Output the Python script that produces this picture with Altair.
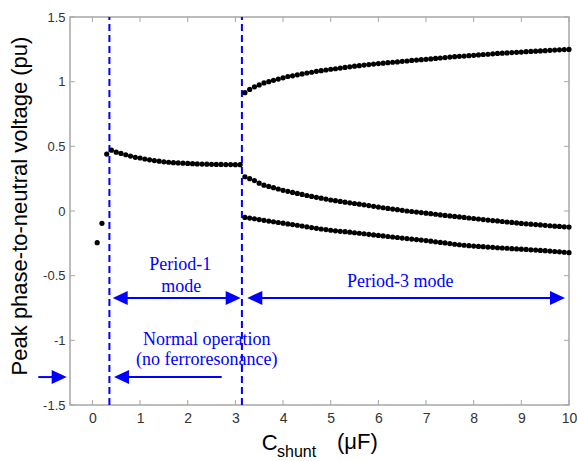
import altair as alt
import pandas as pd

# ---------------- data ----------------
x_normal = [0.1, 0.2, 0.3]
y_normal = [-0.245, -0.095, 0.44]

x_p1 = [0.4, 0.5, 0.6, 0.7, 0.8, 0.9, 1.0, 1.1, 1.2, 1.3,
        1.4, 1.5, 1.6, 1.7, 1.8, 1.9, 2.0, 2.1, 2.2, 2.3,
        2.4, 2.5, 2.6, 2.7, 2.8, 2.9, 3.0, 3.1]
y_p1 = [0.47, 0.455, 0.445, 0.435, 0.425, 0.415, 0.41, 0.402, 0.396, 0.39,
        0.385, 0.38, 0.377, 0.374, 0.372, 0.37, 0.368, 0.366, 0.364, 0.363,
        0.362, 0.361, 0.36, 0.36, 0.359, 0.359, 0.358, 0.358]

x_p3 = [3.2, 3.3, 3.4, 3.5, 3.6, 3.7, 3.8, 3.9, 4.0, 4.1,
        4.2, 4.3, 4.4, 4.5, 4.6, 4.7, 4.8, 4.9, 5.0, 5.1,
        5.2, 5.3, 5.4, 5.5, 5.6, 5.7, 5.8, 5.9, 6.0, 6.1,
        6.2, 6.3, 6.4, 6.5, 6.6, 6.7, 6.8, 6.9, 7.0, 7.1,
        7.2, 7.3, 7.4, 7.5, 7.6, 7.7, 7.8, 7.9, 8.0, 8.1,
        8.2, 8.3, 8.4, 8.5, 8.6, 8.7, 8.8, 8.9, 9.0, 9.1,
        9.2, 9.3, 9.4, 9.5, 9.6, 9.7, 9.8, 9.9, 10.0]
y_p3_upper = [0.915, 0.94, 0.96, 0.975, 0.99, 1.00, 1.01, 1.02, 1.03, 1.04,
              1.045, 1.053, 1.06, 1.067, 1.073, 1.08, 1.085, 1.09, 1.096, 1.10,
              1.105, 1.11, 1.115, 1.12, 1.124, 1.128, 1.132, 1.136, 1.14, 1.143,
              1.147, 1.15, 1.153, 1.157, 1.16, 1.164, 1.167, 1.17, 1.173, 1.176,
              1.18, 1.183, 1.186, 1.19, 1.193, 1.196, 1.198, 1.201, 1.204, 1.207,
              1.21, 1.212, 1.215, 1.218, 1.22, 1.222, 1.225, 1.227, 1.229, 1.232,
              1.234, 1.236, 1.238, 1.24, 1.242, 1.244, 1.246, 1.248, 1.249]
y_p3_middle = [0.265, 0.25, 0.235, 0.215, 0.20, 0.19, 0.18, 0.17, 0.16, 0.152,
               0.144, 0.136, 0.128, 0.12, 0.113, 0.106, 0.099, 0.092, 0.085, 0.08,
               0.074, 0.068, 0.063, 0.058, 0.053, 0.048, 0.042, 0.036, 0.03, 0.025,
               0.02, 0.015, 0.01, 0.005, 0.0, -0.004, -0.008, -0.012, -0.017, -0.021,
               -0.025, -0.03, -0.034, -0.038, -0.042, -0.046, -0.05, -0.054, -0.058, -0.062,
               -0.066, -0.07, -0.074, -0.077, -0.081, -0.085, -0.088, -0.092, -0.096, -0.099,
               -0.102, -0.105, -0.108, -0.111, -0.114, -0.117, -0.119, -0.122, -0.124]
y_p3_lower = [-0.05, -0.055, -0.06, -0.066, -0.072, -0.078, -0.083, -0.089, -0.094, -0.1,
              -0.105, -0.11, -0.116, -0.122, -0.128, -0.134, -0.139, -0.144, -0.149, -0.153,
              -0.157, -0.16, -0.164, -0.168, -0.172, -0.176, -0.18, -0.185, -0.189, -0.193,
              -0.197, -0.201, -0.205, -0.209, -0.213, -0.217, -0.221, -0.225, -0.229, -0.233,
              -0.238, -0.243, -0.247, -0.252, -0.257, -0.261, -0.265, -0.268, -0.271, -0.274,
              -0.276, -0.279, -0.281, -0.284, -0.286, -0.288, -0.291, -0.293, -0.295, -0.297,
              -0.3, -0.302, -0.305, -0.307, -0.31, -0.313, -0.316, -0.319, -0.322]

x_ticks = [0, 1, 2, 3, 4, 5, 6, 7, 8, 9, 10]
y_ticks = [-1.5, -1, -0.5, 0, 0.5, 1, 1.5]

# mode boundaries (dashed lines)
boundaries = [0.357, 3.137]

# annotation arrows: from, to, level, head at start, head at end
arrow_from = [0.426, 3.250, 2.713, -1.135]
arrow_to = [3.112, 9.916, 0.453, -0.539]
arrow_level = [-0.672, -0.672, -1.284, -1.284]
arrow_head_start = [True, True, False, False]
arrow_head_end = [True, True, True, True]

note_texts = ["Period-1", "mode", "Period-3 mode", "Normal operation", "(no ferroresonance)"]
note_x = [1.842, 1.863, 6.458, 2.398, 2.398]
note_y = [-0.456, -0.624, -0.590, -1.036, -1.191]

# ---------------- layout constants ----------------
XMIN, XMAX = -0.47, 10.0
YMIN, YMAX = -1.5, 1.5
W, H = 499, 388
PX_X = W / (XMAX - XMIN)
PX_Y = H / (YMAX - YMIN)
BLUE = "#0000ff"
FRAME = "#a6a6a6"

xscale = alt.Scale(domain=[XMIN, XMAX], nice=False, zero=False)
yscale = alt.Scale(domain=[YMIN, YMAX], nice=False, zero=False)

xaxis = alt.Axis(values=x_ticks, tickSize=0, domain=False, grid=False,
                 labelPadding=6, labelFontSize=14, labelFont="Liberation Sans",
                 labelColor="#333333", labelFlush=False, labelOverlap=False,
                 labelExpr="'' + datum.value")
yaxis = alt.Axis(values=y_ticks, tickSize=0, domain=False, grid=False,
                 labelPadding=5, labelFontSize=13, labelFont="Liberation Sans",
                 labelColor="#333333", labelFlush=False, labelOverlap=False,
                 labelExpr="'' + datum.value",
                 title="Peak phase-to-neutral voltage (pu)",
                 titleFont="Liberation Sans", titleFontSize=22,
                 titleFontWeight="normal", titleColor="black",
                 titleAngle=270, titleX=-44, titleY=188.5,
                 titleAlign="center", titleBaseline="alphabetic")

X = alt.X("x:Q", scale=xscale, axis=xaxis, title=None)
Y = alt.Y("y:Q", scale=yscale, axis=yaxis)

# ---------------- tables ----------------
pts = pd.concat([
    pd.DataFrame({"x": x_normal, "y": y_normal}),
    pd.DataFrame({"x": x_p1, "y": y_p1}),
    pd.DataFrame({"x": x_p3, "y": y_p3_upper}),
    pd.DataFrame({"x": x_p3, "y": y_p3_middle}),
    pd.DataFrame({"x": x_p3, "y": y_p3_lower}),
], ignore_index=True)

tx = 5.0 / PX_X
ty = 5.0 / PX_Y
tick_rows = []
for v in x_ticks:
    tick_rows.append({"x": v, "x2": v, "y": YMIN, "y2": YMIN + ty})
    tick_rows.append({"x": v, "x2": v, "y": YMAX, "y2": YMAX - ty})
for v in y_ticks:
    tick_rows.append({"x": XMIN, "x2": XMIN + tx, "y": v, "y2": v})
    tick_rows.append({"x": XMAX, "x2": XMAX - tx, "y": v, "y2": v})
ticks_df = pd.DataFrame(tick_rows)

bound_df = pd.DataFrame({"x": boundaries, "y": [YMIN] * len(boundaries),
                         "y2": [YMAX] * len(boundaries)})

HEAD = 15.0
head_dx = (HEAD - 2) / PX_X
line_rows, right_heads, left_heads = [], [], []
for a, b, lv, hs, he in zip(arrow_from, arrow_to, arrow_level,
                            arrow_head_start, arrow_head_end):
    direction = 1 if b > a else -1
    x_a = a + (direction * head_dx if hs else 0)
    x_b = b - direction * head_dx if he else b
    line_rows.append({"x": x_a, "x2": x_b, "y": lv})
    if he:
        (right_heads if direction > 0 else left_heads).append({"x": b, "y": lv})
    if hs:
        (left_heads if direction > 0 else right_heads).append({"x": a, "y": lv})
lines_df = pd.DataFrame(line_rows)
rh_df = pd.DataFrame(right_heads)
lh_df = pd.DataFrame(left_heads)

notes_df = pd.DataFrame({"x": note_x, "y": note_y, "t": note_texts})

# x-axis title pieces: C, subscript "shunt", (μF)
xt_big = pd.DataFrame({"x": [3.552, 5.132], "y": [-1.848, -1.840], "t": ["C", "(μF)"]})
xt_sub = pd.DataFrame({"x": [3.873], "y": [-1.900], "t": ["shunt"]})

# ---------------- layers ----------------
tick_layer = alt.Chart(ticks_df).mark_rule(color=FRAME, strokeWidth=1).encode(
    x=X, x2="x2:Q", y=Y, y2="y2:Q")

bound_layer = alt.Chart(bound_df).mark_rule(
    color=BLUE, strokeWidth=2, strokeDash=[7, 4]).encode(x=X, y=Y, y2="y2:Q")

pts_layer = alt.Chart(pts).mark_circle(size=27, color="black", opacity=1).encode(x=X, y=Y)

arrow_lines = alt.Chart(lines_df).mark_rule(color=BLUE, strokeWidth=2).encode(
    x=X, x2="x2:Q", y=Y)
rh_layer = alt.Chart(rh_df).mark_point(
    shape="M0,0L-2,-0.93L-2,0.93Z", size=HEAD * HEAD, filled=True,
    color=BLUE, opacity=1, strokeWidth=0).encode(x=X, y=Y)
lh_layer = alt.Chart(lh_df).mark_point(
    shape="M0,0L2,-0.93L2,0.93Z", size=HEAD * HEAD, filled=True,
    color=BLUE, opacity=1, strokeWidth=0).encode(x=X, y=Y)

notes_layer = alt.Chart(notes_df).mark_text(
    font="Liberation Serif", fontSize=18, color=BLUE, align="center",
    baseline="alphabetic").encode(x=X, y=Y, text="t:N")

xt_big_layer = alt.Chart(xt_big).mark_text(
    font="Liberation Sans", fontSize=22, color="black", align="left",
    baseline="alphabetic").encode(x=X, y=Y, text="t:N")
xt_sub_layer = alt.Chart(xt_sub).mark_text(
    font="Liberation Sans", fontSize=16, color="black", align="left",
    baseline="alphabetic").encode(x=X, y=Y, text="t:N")

chart = alt.layer(
    tick_layer, bound_layer, pts_layer, arrow_lines, rh_layer, lh_layer,
    notes_layer, xt_big_layer, xt_sub_layer
).properties(
    width=W, height=H,
    autosize=alt.AutoSizeParams(type="none"),
    padding={"left": 70, "top": 17, "right": 8, "bottom": 56},
    background="white",
).configure_view(stroke=FRAME, strokeWidth=1.5)

chart.save("out.html", embed_options={"renderer": "svg", "actions": False})
